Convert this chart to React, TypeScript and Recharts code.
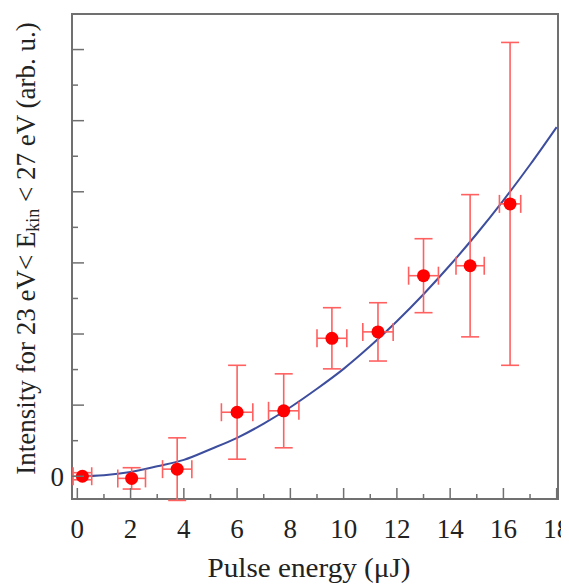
import {
  ComposedChart,
  ErrorBar,
  Line,
  ReferenceArea,
  Scatter,
  XAxis,
  YAxis,
} from 'recharts'

// measured points (pulse energy in µJ, intensity in arb. u.)
const pulseEnergy = [0.19, 2.04, 3.75, 6.0, 7.75, 9.56, 11.29, 13.0, 14.75, 16.25]
const pulseEnergyErr = [0.35, 0.52, 0.55, 0.59, 0.57, 0.56, 0.57, 0.56, 0.53, 0.4]
const intensity = [0.0, -0.03, 0.1, 0.9, 0.92, 1.94, 2.03, 2.82, 2.96, 3.83]
const intensityErr = [0.05, 0.15, 0.44, 0.66, 0.52, 0.43, 0.41, 0.52, 1.0, 2.27]

// fitted curve
const fitX = [0, 1, 2, 3, 4, 5, 6, 7, 8, 9, 10, 11, 12, 13, 14, 15, 16, 17, 18]
const fitY = [0, 0.015, 0.06, 0.14, 0.23, 0.38, 0.54, 0.74, 0.97, 1.23, 1.51, 1.83, 2.18, 2.56, 2.97, 3.41, 3.88, 4.38, 4.91]

const xTicks = [0, 1, 2, 3, 4, 5, 6, 7, 8, 9, 10, 11, 12, 13, 14, 15, 16, 17, 18]
const yTicks = [0, 0.5, 1, 1.5, 2, 2.5, 3, 3.5, 4, 4.5, 5, 5.5, 6]

const X_DOMAIN: [number, number] = [-0.2, 18.05]
const Y_DOMAIN: [number, number] = [-0.32, 6.5]

const FONT = '"Liberation Serif", "Times New Roman", serif'
const FONT_SIZE = 27
const AXIS = '#707070'
const INK = '#222'

const points = pulseEnergy.map((x, i) => ({
  x,
  y: intensity[i],
  ex: pulseEnergyErr[i],
  ey: intensityErr[i],
}))
const fit = fitX.map((x, i) => ({ x, y: fitY[i] }))

function XTick(props: any) {
  const { x, y, payload } = props
  const v = payload.value as number
  const major = v % 2 === 0
  return (
    <g>
      <line x1={x} x2={x} y1={y} y2={y - (major ? 11 : 5)} stroke={AXIS} strokeWidth={1.5} />
      {major && (
        <text x={x} y={y + 30} textAnchor="middle" dominantBaseline="central" fontFamily={FONT} fontSize={FONT_SIZE} fill={INK}>
          {v}
        </text>
      )}
    </g>
  )
}

function YTick(props: any) {
  const { x, y, payload } = props
  const v = payload.value as number
  const major = Number.isInteger(v)
  return (
    <g>
      <line x1={x} x2={x + (major ? 12 : 6)} y1={y} y2={y} stroke={AXIS} strokeWidth={1.5} />
      {v === 0 && (
        <text x={x - 8} y={y + 1} textAnchor="end" dominantBaseline="central" fontFamily={FONT} fontSize={FONT_SIZE} fill={INK}>
          0
        </text>
      )}
    </g>
  )
}

function Dot(props: any) {
  const { cx, cy } = props
  return <circle cx={cx} cy={cy} r={6.5} fill="#ff0000" />
}

export default function App() {
  return (
    <div style={{ width: 561, height: 579 }}>
      <ComposedChart width={561} height={579} margin={{ top: 6, right: 11, left: 0, bottom: 0 }}>
        <XAxis
          dataKey="x"
          type="number"
          domain={X_DOMAIN}
          ticks={xTicks}
          allowDataOverflow
          height={88}
          tickSize={0}
          tickMargin={0}
          tickLine={false}
          axisLine={false}
          tick={<XTick />}
          interval={0}
          label={{
            content: (p: any) => {
              const vb = p.viewBox
              return (
                <text
                  x={vb.x + vb.width / 2 - 6}
                  y={569}
                  textAnchor="middle"
                  fontFamily={FONT}
                  fontSize={FONT_SIZE}
                  textLength={203}
                  lengthAdjust="spacingAndGlyphs"
                  fill={INK}
                >
                  Pulse energy (μJ)
                </text>
              )
            },
          }}
        />
        <YAxis
          type="number"
          domain={Y_DOMAIN}
          ticks={yTicks}
          allowDataOverflow
          width={64}
          tickSize={0}
          tickMargin={0}
          tickLine={false}
          axisLine={false}
          tick={<YTick />}
          interval={0}
          label={{
            content: (p: any) => {
              const vb = p.viewBox
              const cx = 18
              const cy = vb.y + vb.height / 2 - 8
              return (
                <text
                  x={cx}
                  y={cy}
                  transform={`rotate(-90, ${cx}, ${cy})`}
                  textAnchor="middle"
                  dominantBaseline="central"
                  fontFamily={FONT}
                  fontSize={FONT_SIZE}
                  fill={INK}
                >
                  Intensity for 23 eV&lt; E
                  <tspan dy={7} fontSize={18}>kin</tspan>
                  <tspan dy={-7}> &lt; 27 eV (arb. u.)</tspan>
                </text>
              )
            },
          }}
        />
        <ReferenceArea
          x1={X_DOMAIN[0]}
          x2={X_DOMAIN[1]}
          y1={Y_DOMAIN[0]}
          y2={Y_DOMAIN[1]}
          fill="none"
          stroke={AXIS}
          strokeWidth={2}
          ifOverflow="visible"
        />
        <Line
          data={fit}
          dataKey="y"
          type="monotone"
          stroke="#3d4e9e"
          strokeWidth={2}
          dot={false}
          activeDot={false}
          isAnimationActive={false}
        />
        <Scatter data={points} dataKey="y" shape={<Dot />} isAnimationActive={false}>
          <ErrorBar dataKey="ey" direction="y" width={9} stroke="#ff6060" strokeWidth={1.6} />
          <ErrorBar dataKey="ex" direction="x" width={9} stroke="#ff6060" strokeWidth={1.6} />
        </Scatter>
      </ComposedChart>
    </div>
  )
}
